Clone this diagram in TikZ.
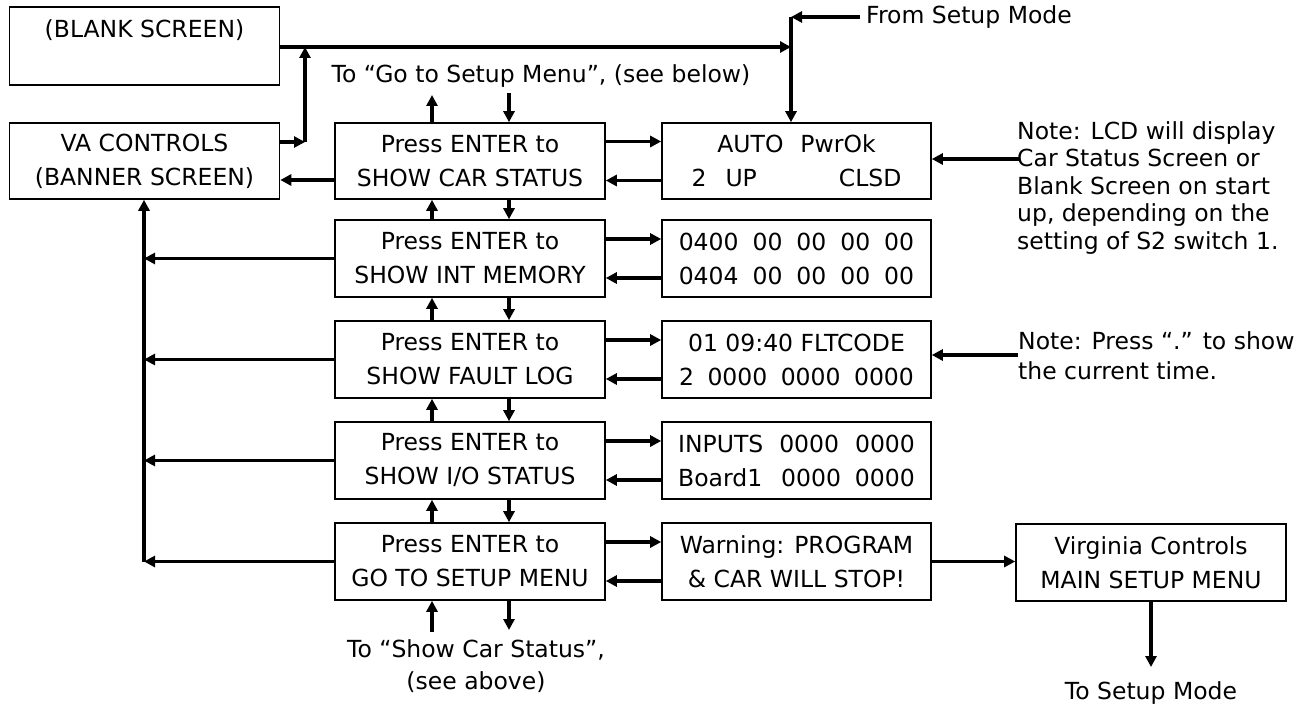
\documentclass[tikz,border=0pt]{standalone}
\usepackage{fontspec}
\setmainfont{DejaVu Sans}
\usetikzlibrary{arrows.meta,calc}
\begin{document}
\begin{tikzpicture}[x=1pt,y=-1pt]
\tikzset{
 box/.style={draw, line width=1.6pt, minimum width=270pt, minimum height=77pt, inner sep=0pt, align=center, font=\fontsize{23.5}{34}\selectfont},
 lcd/.style={box, minimum width=269pt},
 txt/.style={inner sep=0pt, font=\fontsize{23.5}{32}\selectfont},
 arr/.style={line width=3.2pt, -{Triangle[length=11pt,width=11pt]}},
}
\useasboundingbox (0,0) rectangle (1306,706);
% left column
\node[box, minimum height=78pt] (blank) at (144.5,46) {(BLANK SCREEN)\\~};
\node[box, minimum height=76pt] (va) at (144.5,161) {VA CONTROLS\\(BANNER SCREEN)};
% press column
\node[box, minimum height=76pt] (p1) at (470,161) {Press ENTER to\\SHOW CAR STATUS};
\node[box] (p2) at (470,258.5) {Press ENTER to\\SHOW INT MEMORY};
\node[box] (p3) at (470,359.5) {Press ENTER to\\SHOW FAULT LOG};
\node[box] (p4) at (470,460.5) {Press ENTER to\\SHOW I/O STATUS};
\node[box] (p5) at (470,561.5) {Press ENTER to\\GO TO SETUP MENU};
% lcd column
\node[lcd, minimum height=76pt] (l1) at (796.5,161) {AUTO\hspace{17pt}PwrOk\\2\hspace{19pt}UP\hspace{82pt}CLSD};
\node[lcd] (l2) at (796.5,258.5) {0400\hspace{14pt}00\hspace{14pt}00\hspace{14pt}00\hspace{14pt}00\\0404\hspace{14pt}00\hspace{14pt}00\hspace{14pt}00\hspace{14pt}00};
\node[lcd] (l3) at (796.5,359.5) {01 09:40 FLTCODE\\2\hspace{13.5pt}0000\hspace{13.5pt}0000\hspace{13.5pt}0000};
\node[lcd] (l4) at (796.5,460.5) {INPUTS\hspace{16pt}0000\hspace{16pt}0000\\Board1\hspace{19pt}0000\hspace{14pt}0000};
\node[lcd] (l5) at (796.5,561.5) {Warning: PROGRAM\\\& CAR WILL STOP!};
\node[box] (vc) at (1151,562.5) {Virginia Controls\\MAIN SETUP MENU};
% texts
\node[txt, anchor=west] (fst) at (866,17) {From Setup Mode};
\node[txt] (toptxt) at (541,76) {To “Go to Setup Menu”, (see below)};
\node[txt, align=center] (bottxt) at (476,666) {To “Show Car Status”,\\(see above)};
\node[txt] (tsm) at (1151,693) {To Setup Mode};
\node[txt, anchor=west, align=left, font=\fontsize{23.5}{27.5}\selectfont] (n1) at (1017,188) {Note: LCD will display\\Car Status Screen or\\Blank Screen on start\\up, depending on the\\setting of S2 switch 1.};
\node[txt, anchor=west, align=left, font=\fontsize{23.5}{30}\selectfont] (n2) at (1018,356) {Note: Press “.” to show\\the current time.};
% coordinates
\coordinate (jb) at (791,47);
\coordinate (jt) at (791,17);
\coordinate (va1) at (305,142);
\coordinate (va2) at (305,47);
\coordinate (tu) at (432,95);
\coordinate (td) at (509,93);
\coordinate (bu) at (432,632);
\coordinate (bd) at (509,630);
\coordinate (bus) at (144,562);
\coordinate (vcd) at (1151,667);
\coordinate (n1a) at (1019,159);
\coordinate (n2a) at (1018,355);
% top connectors
\draw[arr] (blank.east |- jb) -- (jb);
\draw[arr] ([xshift=-6pt]fst.west) -- (jt);
\draw[arr] (jt) -- (jt |- l1.north);
\draw[arr] (va.east |- va1) -- (va1);
\draw[arr] (va1) -- (va2);
\draw[arr] ([yshift=-19pt]p1.west) -- ([yshift=-19pt]va.east);
\draw[arr] (p1.north -| tu) -- (tu);
\draw[arr] (td) -- (td |- p1.north);
% between rows
\foreach \a/\b in {p1/p2,p2/p3,p3/p4,p4/p5}{
  \draw[arr] (\b.north -| tu) -- (\a.south -| tu);
  \draw[arr] (\a.south -| td) -- (\b.north -| td);
}
% bottom
\draw[arr] (bu) -- (bu |- p5.south);
\draw[arr] (p5.south -| bd) -- (bd);
% bus
\draw[arr] (bus) -- (bus |- va.south);
\foreach \a in {p2,p3,p4,p5}{
  \draw[arr] (\a.west) -- (\a.west -| bus);
}
% right connectors
\foreach \a/\b in {p1/l1,p2/l2,p3/l3,p4/l4,p5/l5}{
  \draw[arr] ([yshift=19.5pt]\a.east) -- ([yshift=19.5pt]\b.west);
  \draw[arr] ([yshift=-19.5pt]\b.west) -- ([yshift=-19.5pt]\a.east);
}
\draw[arr] (l5.east) -- (l5.east -| vc.west);
\draw[arr] (vc.south) -- (vcd);
\draw[arr] (n1a) -- (n1a -| l1.east);
\draw[arr] (n2a) -- (n2a -| l3.east);
\end{tikzpicture}
\end{document}
